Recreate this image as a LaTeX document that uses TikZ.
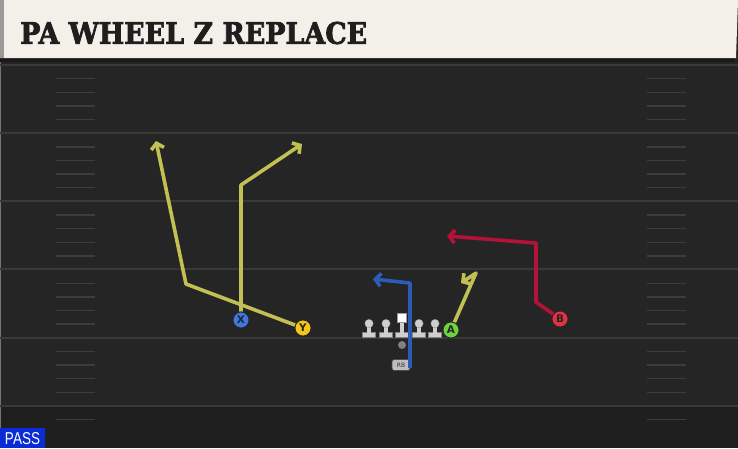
\documentclass[tikz,border=0pt]{standalone}
\usepackage{graphicx}
\usepackage{fontspec}
\setmainfont{DejaVu Serif}
\newfontfamily\titlefont{DejaVu Serif}[BoldFeatures={FakeBold=2.5}]
\newfontfamily\labfont{DejaVu Sans}
\newfontfamily\passfont{Liberation Sans}
\usetikzlibrary{arrows.meta}
\definecolor{fieldc}{HTML}{252525}
\definecolor{fieldlow}{HTML}{1F1F1F}
\definecolor{linec}{HTML}{393939}
\definecolor{hashc}{HTML}{3C3C3C}
\definecolor{headc}{HTML}{F3F0E9}
\definecolor{titlec}{HTML}{1E1E1E}
\definecolor{yelroute}{HTML}{C2C052}
\definecolor{redroute}{HTML}{B5123A}
\definecolor{bluroute}{HTML}{2C5CB8}
\definecolor{xfill}{HTML}{3F78E0}
\definecolor{yfill}{HTML}{F5C518}
\definecolor{afill}{HTML}{6DD23C}
\definecolor{bfill}{HTML}{E33144}
\definecolor{olgray}{HTML}{CFCFCF}
\definecolor{passblue}{HTML}{0A2BD6}
\tikzset{
  player/.style={circle, minimum size=16pt, inner sep=0pt, draw=black!85, line width=0.8pt,
    font=\labfont\bfseries\fontsize{10.5}{10.5}\selectfont, text=black!85},
  route/.style={line width=3.6pt, line join=round,
    -{Straight Barb[length=5.5pt,width=13pt]}},
  yardline/.style={draw=linec, line width=1.8pt},
  hashmark/.style={draw=hashc, line width=1.4pt},
  lineman/.pic={
    \fill[olgray, draw=black!50, line width=0.4pt] (-6.5,-5) rectangle (6.5,0);
    \fill[olgray] (-2.2,-13) rectangle (2.2,-4);
    \fill[olgray, draw=black!40, line width=0.3pt] (0,-13.5) circle (4.2);
  }
}
\begin{document}
\begin{tikzpicture}[x=1pt,y=-1pt]
\useasboundingbox (0,0) rectangle (738,448);
% field
\fill[fieldc] (0,0) rectangle (738,448);
\fill[fieldlow] (0,407) rectangle (738,448);
\draw[black!55, line width=1pt] (0.5,60) -- (0.5,448);
% yard lines
\foreach \yy in {65,133,201,269,338,406} {
  \draw[yardline] (0,\yy) -- (738,\yy);
}
% hash marks
\foreach \k in {0,...,4} {
  \foreach \j in {1,2,3,4} {
    \pgfmathsetmacro{\hy}{65+68.2*\k+13.64*\j}
    \draw[hashmark] (56,\hy) -- (95,\hy);
    \draw[hashmark] (647,\hy) -- (686,\hy);
  }
}
\foreach \hy in {419.6} {
  \draw[hashmark] (56,\hy) -- (95,\hy);
  \draw[hashmark] (647,\hy) -- (686,\hy);
}
% header
\fill[black!90] (0,56) -- (736,56) -- (734,62) -- (0,62) -- cycle;
\fill[headc] (0,0) -- (738,0) -- (736,58) -- (0,58) -- cycle;
\fill[black!40] (0,0) rectangle (4,58);
\node[anchor=west, text=titlec, inner sep=0pt] (title) at (20,33)
  {\resizebox{347pt}{22pt}{\titlefont\bfseries PA WHEEL Z REPLACE}};
% offensive line
\pic at (369,337) {lineman};
\pic at (386,337) {lineman};
\pic at (419,337) {lineman};
\pic at (435,337) {lineman};
\fill[olgray, draw=black!50, line width=0.4pt] (395.5,332) rectangle (408.5,337);
\fill[olgray] (399.8,322) rectangle (404.2,333);
\fill[white, draw=black!40, line width=0.3pt] (397.5,313.5) rectangle (406.5,322);
\node[circle, fill=black!50, minimum size=8pt, inner sep=0pt] (qb) at (402,345) {};
% players
\node[player, fill=xfill] (x) at (241,320) {X};
\node[player, fill=yfill] (y) at (303,328) {Y};
\node[player, fill=afill] (a) at (451,330) {A};
\node[player, fill=bfill] (b) at (560,319) {B};
\node[rounded corners=2.5pt, fill=black!25, draw=black!70, line width=0.6pt,
  minimum width=18pt, minimum height=11pt, inner sep=0pt,
  font=\labfont\fontsize{6}{6}\selectfont, text=black!80] (rb) at (401,365) {RB};
% route waypoints
\coordinate (x1) at (241,185);
\coordinate (x2) at (302,144);
\coordinate (y1) at (186,284);
\coordinate (y2) at (156,141);
\coordinate (a1) at (476,273);
\coordinate (a2) at (461,283);
\coordinate (b1) at (536,302);
\coordinate (b2) at (536,243);
\coordinate (b3) at (447,236);
\coordinate (rb1) at (410,283);
\coordinate (rb2) at (373,279);
\coordinate (rbs) at (410,368);
% routes
\draw[route, yelroute] (y) -- (y1) -- (y2);
\draw[route, yelroute] (x) -- (x1) -- (x2);
\draw[route, yelroute] (a) -- (a1) -- (a2);
\draw[route, redroute] (b) -- (b1) -- (b2) -- (b3);
\draw[route, bluroute] (rbs) -- (rb1) -- (rb2);
% redraw players on top
\node[player, fill=xfill] at (x) {X};
\node[player, fill=yfill] at (y) {Y};
\node[player, fill=afill] at (a) {A};
\node[player, fill=bfill] at (b) {B};
% PASS tag
\fill[passblue] (0,428) rectangle (45,448);
\node[text=white, inner sep=0pt] (pass) at (22.5,438.5)
  {\resizebox{35pt}{12pt}{\passfont PASS}};
\end{tikzpicture}
\end{document}
